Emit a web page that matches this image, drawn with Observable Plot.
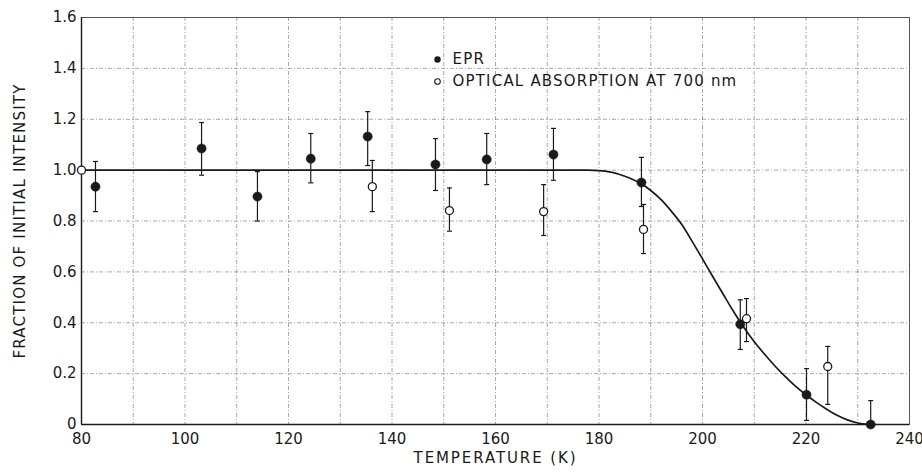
<!DOCTYPE html>
<html>
<head>
<meta charset="utf-8">
<script src="https://cdn.jsdelivr.net/npm/d3@7"></script>
<script src="https://cdn.jsdelivr.net/npm/@observablehq/plot@0.6"></script>
<style>
  html, body { margin: 0; padding: 0; background: #fff; }
  #chart { width: 922px; height: 472px; }
  #chart svg { overflow: visible; }
</style>
</head>
<body>
<div id="chart"></div>
<script>
// ---- data ----
const tempTicks = [80, 100, 120, 140, 160, 180, 200, 220, 240];
const tempGrid = [80, 90, 100, 110, 120, 130, 140, 150, 160, 170, 180, 190, 200, 210, 220, 230, 240];
const fracTicks = [0, 0.2, 0.4, 0.6, 0.8, 1.0, 1.2, 1.4, 1.6];
const fracTickLabels = ["0", "0.2", "0.4", "0.6", "0.8", "1.0", "1.2", "1.4", "1.6"];

const eprTemp  = [82.7, 103.2, 114.0, 124.3, 135.3, 148.4, 158.3, 171.2, 188.2, 207.3, 220.1, 232.5];
const eprValue = [0.935, 1.085, 0.896, 1.045, 1.132, 1.022, 1.042, 1.061, 0.951, 0.394, 0.117, 0.0];
const eprLow   = [0.837, 0.98, 0.80, 0.95, 1.018, 0.92, 0.943, 0.96, 0.857, 0.295, 0.016, -0.1];
const eprHigh  = [1.034, 1.187, 0.994, 1.144, 1.23, 1.124, 1.144, 1.164, 1.05, 0.49, 0.22, 0.094];

const optTemp  = [80, 136.2, 151.1, 169.3, 188.6, 208.5, 224.2];
const optValue = [1.0, 0.935, 0.841, 0.837, 0.767, 0.416, 0.228];
const optLow   = [null, 0.837, 0.76, 0.743, 0.672, 0.326, 0.079];
const optHigh  = [null, 1.038, 0.93, 0.943, 0.865, 0.495, 0.307];

const curveTemp  = [80, 178, 180, 182, 184, 186, 188, 190, 192, 194, 196, 198, 200, 202, 204, 206, 208, 210, 212, 214, 216, 218, 220, 222, 224, 226, 228, 230, 232, 232.5];
const curveValue = [1.0, 1.0, 0.998, 0.993, 0.983, 0.968, 0.948, 0.92, 0.884, 0.838, 0.786, 0.72, 0.651, 0.581, 0.512, 0.444, 0.381, 0.325, 0.276, 0.23, 0.188, 0.15, 0.117, 0.087, 0.06, 0.036, 0.018, 0.006, 0.0005, 0.0];

const xTitle = "TEMPERATURE (K)";
const yTitle = "FRACTION OF INITIAL INTENSITY";
const legendLabels = ["EPR", "OPTICAL ABSORPTION AT 700 nm"];

// ---- tables ----
const epr = eprTemp.map((t, i) => ({t, v: eprValue[i], lo: eprLow[i], hi: eprHigh[i]}));
const opt = optTemp.map((t, i) => ({t, v: optValue[i], lo: optLow[i], hi: optHigh[i]}));
const curve = curveTemp.map((t, i) => ({t, v: curveValue[i]}));
const optErr = opt.filter(d => d.lo != null);
const caps = [...epr, ...optErr].flatMap(d => [{t: d.t, y: d.lo}, {t: d.t, y: d.hi}]);

const capSymbol = { draw(ctx) { ctx.moveTo(-2.5, 0); ctx.lineTo(2.5, 0); } };
const gridStyle = {stroke: "#666", strokeOpacity: 0.75, strokeWidth: 0.75, strokeDasharray: "4,2,1,2"};
const ink = "#1a1a1a";

const chart = Plot.plot({
  width: 922,
  height: 472,
  marginLeft: 81,
  marginRight: 13,
  marginTop: 17,
  marginBottom: 48,
  style: {fontFamily: "'DejaVu Sans', sans-serif", fontSize: "15px", color: ink, background: "#fff", overflow: "visible"},
  x: {domain: [80, 240]},
  y: {domain: [0, 1.6]},
  marks: [
    Plot.gridX(tempGrid, gridStyle),
    Plot.gridY(fracTicks, gridStyle),
    Plot.frame({stroke: "#555", strokeWidth: 1}),
    Plot.ruleX([80], {stroke: ink, strokeWidth: 1.4}),
    Plot.ruleY([0], {stroke: ink, strokeWidth: 1.4}),
    Plot.axisX({ticks: tempTicks, tickSize: 0, tickPadding: 9, label: null, fontSize: 15}),
    Plot.axisY({ticks: fracTicks, tickFormat: (d, i) => fracTickLabels[i], tickSize: 0, tickPadding: 5, label: null, fontSize: 15}),
    Plot.text([xTitle], {frameAnchor: "bottom", dy: 38, fontSize: 15, fill: ink}),
    Plot.text([yTitle], {frameAnchor: "left", textAnchor: "middle", dx: -61, rotate: -90, fontSize: 15, fill: ink}),
    Plot.line(curve, {x: "t", y: "v", curve: "monotone-x", stroke: ink, strokeWidth: 1.7}),
    Plot.ruleX(epr, {x: "t", y1: "lo", y2: "hi", stroke: ink, strokeWidth: 1.2, clip: true}),
    Plot.ruleX(optErr, {x: "t", y1: "lo", y2: "hi", stroke: ink, strokeWidth: 1.2, clip: true}),
    Plot.dot(caps, {x: "t", y: "y", symbol: capSymbol, stroke: ink, strokeWidth: 1.2, clip: true}),
    Plot.dot(opt, {x: "t", y: "v", r: 4, fill: "#fff", stroke: ink, strokeWidth: 1.3}),
    Plot.dot(epr, {x: "t", y: "v", r: 4.6, fill: ink, stroke: ink, strokeWidth: 0.5}),
    // legend
    Plot.dot([legendLabels[0]], {frameAnchor: "top-left", dx: 356, dy: 42, r: 3.2, fill: ink}),
    Plot.dot([legendLabels[1]], {frameAnchor: "top-left", dx: 356, dy: 64, r: 2.8, fill: "#fff", stroke: ink, strokeWidth: 1.1}),
    Plot.text([legendLabels[0]], {frameAnchor: "top-left", dx: 371, dy: 42, textAnchor: "start", lineAnchor: "middle", fontSize: 15, fill: ink}),
    Plot.text([legendLabels[1]], {frameAnchor: "top-left", dx: 371, dy: 64, textAnchor: "start", lineAnchor: "middle", fontSize: 15, fill: ink})
  ]
});

// widen the lettering of the titles and the legend like the reference's stencil type
const spacing = new Map([[xTitle, 1.9], [yTitle, 1.2], [legendLabels[0], 1.2], [legendLabels[1], 1.2]]);
d3.select(chart).selectAll("text").each(function () {
  const s = this.textContent;
  if (spacing.has(s)) this.setAttribute("letter-spacing", spacing.get(s));
});
document.getElementById("chart").appendChild(chart);
</script>
</body>
</html>
